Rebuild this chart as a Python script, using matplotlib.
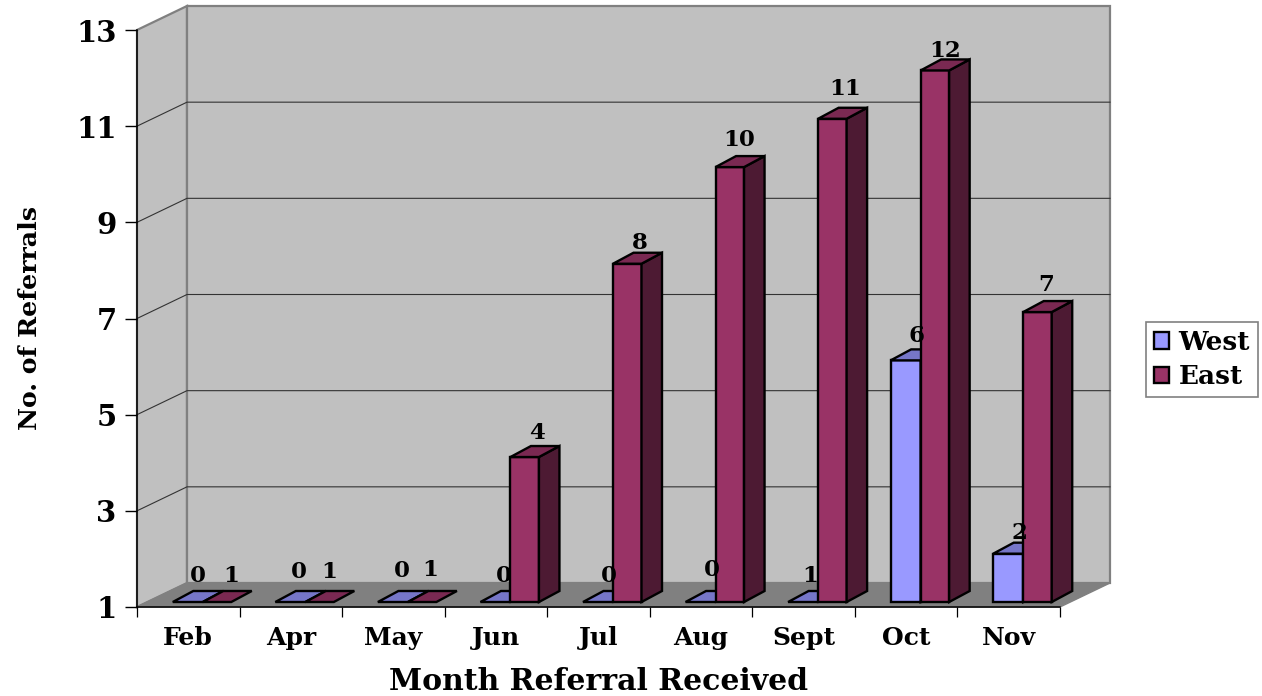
import matplotlib
matplotlib.use("Agg")
import matplotlib.pyplot as plt
from matplotlib.patches import Patch

# Values
months = ["Feb", "Apr", "May", "Jun", "Jul", "Aug", "Sept", "Oct", "Nov"]
west = [0, 0, 0, 0, 0, 0, 1, 6, 2]
east = [1, 1, 1, 4, 8, 10, 11, 12, 7]
y_ticks = [1, 3, 5, 7, 9, 11, 13]

# Small hand offsets of the value labels, in pixels from the bar's top back corner
west_nudge = [(-10, 15), (-12, 19), (-12, 20), (-12, 15), (-10, 15), (-9, 21), (-13, 15), (-10, 13), (-9, 10)]
east_nudge = [(-6, 15), (-11, 19), (-12, 21), (-8, 13), (-8, 10), (-11, 16), (-8, 19), (-10, 8), (-12, 16)]

W, H = 1262, 696
LEFT, RIGHT, TOP, BOTTOM = 137, 1060, 30, 607
ux = (RIGHT - LEFT) / len(months)   # pixels per category
uy = (BOTTOM - TOP) / 12            # pixels per value unit

# 3D look: depth of the box and of the bars, in data units
box_dx, box_dy = 50 / ux, 24 / uy
bar_dx, bar_dy = 20.5 / ux, 11 / uy
bar_off_x, bar_off_y = 14.5 / ux, 5 / uy
west_w, east_w = 30 / ux, 28.5 / ux
stretch = 1.005

plt.rcParams["font.family"] = "DejaVu Serif"
plt.rcParams["font.weight"] = "bold"

fig = plt.figure(figsize=(W / 100, H / 100), dpi=100)
ax = fig.add_axes([LEFT / W, (H - BOTTOM) / H, (RIGHT - LEFT) / W, (BOTTOM - TOP) / H])
ax.set_xlim(-0.5, len(months) - 0.5)
ax.set_ylim(1, 13)
ax.patch.set_visible(False)
for s in ["top", "right"]:
    ax.spines[s].set_visible(False)
for s in ["left", "bottom"]:
    ax.spines[s].set_linewidth(1.1)
    ax.spines[s].set_color("black")
    ax.spines[s].set_zorder(2)

x0, x1 = -0.5, len(months) - 0.5
gray = "#808080"

# walls and floor
ax.fill([x0, x0 + box_dx, x0 + box_dx, x0], [1, 1 + box_dy, 13 + box_dy, 13],
        fc="#C0C0C0", ec=gray, lw=1.6, clip_on=False, zorder=1)
ax.fill([x0 + box_dx, x1 + box_dx, x1 + box_dx, x0 + box_dx], [1 + box_dy, 1 + box_dy, 13 + box_dy, 13 + box_dy],
        fc="#C0C0C0", ec=gray, lw=1.6, clip_on=False, zorder=1)
ax.fill([x0, x1, x1 + box_dx, x0 + box_dx], [1, 1, 1 + box_dy, 1 + box_dy],
        fc=gray, ec=gray, lw=1, clip_on=False, zorder=1.2)
for v in y_ticks[1:-1]:
    ax.plot([x0, x0 + box_dx, x1 + box_dx], [v, v + box_dy, v + box_dy],
            color="#333333", lw=0.8, clip_on=False, zorder=1.1)


def draw_bar(left, w, value, front, top, side):
    # values under the axis minimum sit flat on the floor
    base = 1 + bar_off_y
    h = max(value - 1, 0) * stretch
    yt = base + h
    ec = dict(ec="black", lw=1.7, clip_on=False)
    if h > 0:
        ax.bar(left, h, w, bottom=base, align="edge", color=front, zorder=3, **ec)
        ax.fill([left + w, left + w + bar_dx, left + w + bar_dx, left + w],
                [base, base + bar_dy, yt + bar_dy, yt], fc=side, zorder=3, **ec)
    ax.fill([left, left + w, left + w + bar_dx, left + bar_dx],
            [yt, yt, yt + bar_dy, yt + bar_dy], fc=top, zorder=3, **ec)
    return left + w / 2 + bar_dx, yt + bar_dy


for i in range(len(months)):
    wx, wy = draw_bar(i + bar_off_x - west_w, west_w, west[i], "#9999FF", "#7676C8", "#4D4D80")
    ex, ey = draw_bar(i + bar_off_x, east_w, east[i], "#993366", "#7A2952", "#4D1A33")
    ax.annotate(str(west[i]), (wx, wy), xytext=west_nudge[i], textcoords="offset pixels",
                ha="center", va="center", fontsize=16.5, zorder=5, annotation_clip=False)
    ax.annotate(str(east[i]), (ex, ey), xytext=east_nudge[i], textcoords="offset pixels",
                ha="center", va="center", fontsize=16.5, zorder=5, annotation_clip=False)

# axes ticks and labels
ax.set_yticks(y_ticks)
ax.tick_params(axis="y", length=8.6, width=1, pad=6, labelsize=21)
ax.set_xticks(range(len(months)))
ax.set_xticklabels(months)
ax.tick_params(axis="x", which="major", length=0, pad=14, labelsize=18)
ax.set_xticks([i - 0.5 for i in range(len(months) + 1)], minor=True)
ax.tick_params(axis="x", which="minor", length=7.5, width=0.9)

ax.set_xlabel("Month Referral Received", fontsize=21.5, fontweight="bold", va="center")
ax.xaxis.set_label_coords(0.5, (BOTTOM - 681) / (BOTTOM - TOP))
ax.set_ylabel("No. of Referrals", fontsize=18.2, fontweight="bold", va="center")
ax.yaxis.set_label_coords((30 - LEFT) / (RIGHT - LEFT), 0.5)

handles = [Patch(fc="#9999FF", ec="black", lw=1.7, label="West"),
           Patch(fc="#993366", ec="black", lw=1.7, label="East")]
leg = fig.legend(handles=handles, loc="upper left", bbox_to_anchor=(1146 / W, 1 - 322 / H),
                 borderaxespad=0, fontsize=19, fancybox=False, edgecolor=gray, framealpha=1,
                 handlelength=0.58, handleheight=0.58, handletextpad=0.35, labelspacing=0.36,
                 borderpad=0.3)
leg.get_frame().set_linewidth(1.2)

fig.savefig("out.png", dpi=100)
